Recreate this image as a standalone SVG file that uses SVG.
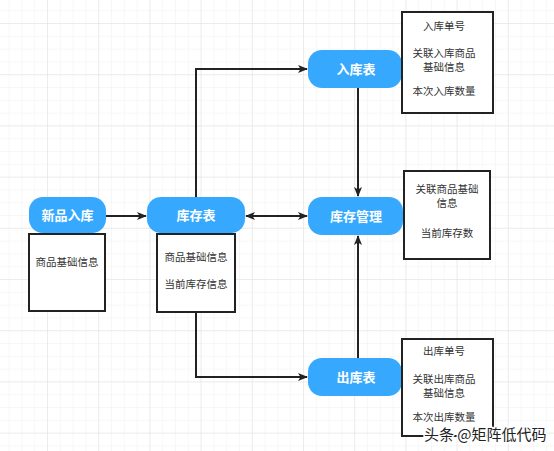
<svg xmlns="http://www.w3.org/2000/svg" width="554" height="451" viewBox="0 0 554 451">
<defs>
<pattern id="minor" x="-4.2" y="23" width="12.8" height="12.8" patternUnits="userSpaceOnUse">
<path d="M0 0H12.8M0 0V12.8" fill="none" stroke="#efefef" stroke-width="1"/>
</pattern>
<pattern id="major" x="-4.2" y="23" width="51.2" height="51.2" patternUnits="userSpaceOnUse">
<path d="M0 0H51.2M0 0V51.2" fill="none" stroke="#e2e2e2" stroke-width="1"/>
</pattern>
<marker id="arr" viewBox="0 0 10 10" refX="9" refY="5" markerWidth="10" markerHeight="10" markerUnits="userSpaceOnUse" orient="auto-start-reverse">
<path d="M0 1 L10 5 L0 9 L2.5 5 Z" fill="#222"/>
</marker>
<style>
.pill{fill:#36a9ff;}
.pt{font-family:"Noto Sans CJK SC","Noto Sans",sans-serif;font-size:13px;font-weight:bold;fill:#fff;text-anchor:middle;}
.box{fill:#fff;stroke:#222;stroke-width:2;}
.bt{font-family:"Noto Sans CJK SC","Noto Sans",sans-serif;font-size:10.5px;fill:#333;text-anchor:middle;}
.ln{fill:none;stroke:#222;stroke-width:2;}
</style>
</defs>
<rect width="554" height="451" fill="#fff"/>
<rect width="554" height="451" fill="url(#minor)"/>
<rect width="554" height="451" fill="url(#major)"/>

<g id="connectors">
<path class="ln" d="M106 216 H146" marker-end="url(#arr)"/>
<path class="ln" d="M196 197 V69 H307" marker-end="url(#arr)"/>
<path class="ln" d="M246 216 H307" marker-start="url(#arr)" marker-end="url(#arr)"/>
<path class="ln" d="M358 88 V196" marker-end="url(#arr)"/>
<path class="ln" d="M358 358 V236" marker-end="url(#arr)"/>
<path class="ln" d="M196 312 V377 H307" marker-end="url(#arr)"/>
</g>

<g id="node-xinpin">
<rect class="pill" x="29" y="197" width="77" height="36" rx="14"/>
<text class="pt" x="67.5" y="220">新品入库</text>
<rect class="box" x="29" y="234" width="76" height="77"/>
<text class="bt" x="67" y="266">商品基础信息</text>
</g>

<g id="node-kucunbiao">
<rect class="pill" x="147" y="197" width="98" height="36" rx="14"/>
<text class="pt" x="196" y="220">库存表</text>
<rect class="box" x="157" y="234" width="78" height="78"/>
<text class="bt" x="196" y="261">商品基础信息</text>
<text class="bt" x="196" y="288">当前库存信息</text>
</g>

<g id="node-rukubiao">
<rect class="pill" x="308" y="50" width="94" height="38" rx="14"/>
<text class="pt" x="356" y="74">入库表</text>
<rect class="box" x="402" y="12" width="91" height="101"/>
<text class="bt" x="444" y="30">入库单号</text>
<text class="bt" x="444" y="56.5">关联入库商品</text>
<text class="bt" x="444" y="70.5">基础信息</text>
<text class="bt" x="444" y="95">本次入库数量</text>
</g>

<g id="node-guanli">
<rect class="pill" x="308" y="197" width="95" height="38" rx="14"/>
<text class="pt" x="356" y="221">库存管理</text>
<rect class="box" x="404" y="171" width="86" height="88"/>
<text class="bt" x="447" y="192.5">关联商品基础</text>
<text class="bt" x="447" y="206.5">信息</text>
<text class="bt" x="447" y="237">当前库存数</text>
</g>

<g id="node-chukubiao">
<rect class="pill" x="308" y="358" width="94" height="38" rx="14"/>
<text class="pt" x="356" y="382">出库表</text>
<rect class="box" x="402" y="339" width="91" height="97"/>
<text class="bt" x="444" y="355">出库单号</text>
<text class="bt" x="444" y="382.5">关联出库商品</text>
<text class="bt" x="444" y="396.5">基础信息</text>
<text class="bt" x="444" y="421">本次出库数量</text>
</g>

<text x="424" y="440" font-family="Noto Sans CJK SC,sans-serif" font-size="15" fill="#222" stroke="#fff" stroke-width="3" paint-order="stroke">头条 @矩阵低代码</text>
</svg>
